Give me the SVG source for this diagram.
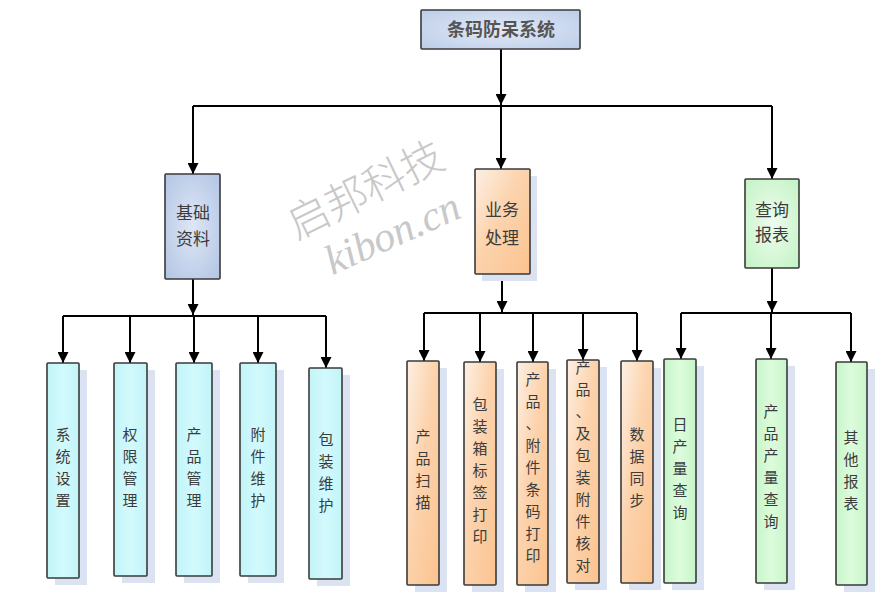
<svg xmlns="http://www.w3.org/2000/svg" width="884" height="613" viewBox="0 0 884 613">
<style>
.box{stroke:#3a3a3a;stroke-width:1.6}
.sh{fill:#dbe3f3}
.t{font-family:"Noto Sans CJK SC","Liberation Sans",sans-serif;font-size:17px;fill:#3c3c3c;text-anchor:middle}
.v{font-family:"Noto Sans CJK SC","Liberation Sans",sans-serif;font-size:15px;fill:#3c3c3c;text-anchor:middle}
.tt{font-family:"Noto Sans CJK SC","Liberation Sans",sans-serif;font-size:18px;fill:#555;font-weight:bold;text-anchor:middle}
.ln{stroke:#000;stroke-width:2;fill:none}
.ar{stroke:#000;stroke-width:2;fill:none;marker-end:url(#ah)}
.wm{font-size:42px;fill:#c8c8c8;text-anchor:middle}
</style>
<defs>
<marker id="ah" viewBox="0 0 12 12" refX="12" refY="6" markerWidth="12" markerHeight="11" orient="auto" markerUnits="userSpaceOnUse">
<path d="M0,0 L12,6 L0,12 z" fill="#000"/>
</marker>
<radialGradient id="gBlue" cx="0.5" cy="0.5" r="0.7">
<stop offset="0" stop-color="#dde6f5"/><stop offset="1" stop-color="#b3c5e4"/>
</radialGradient>
<radialGradient id="gTop" cx="0.5" cy="0.5" r="0.7">
<stop offset="0" stop-color="#e2e9f6"/><stop offset="1" stop-color="#bccde9"/>
</radialGradient>
<linearGradient id="gOr" x1="0" y1="0" x2="1" y2="1">
<stop offset="0" stop-color="#fdf0e4"/><stop offset="0.45" stop-color="#fcd3ad"/><stop offset="1" stop-color="#fbc38f"/>
</linearGradient>
<radialGradient id="gGr" cx="0.5" cy="0.5" r="0.7">
<stop offset="0" stop-color="#eefcef"/><stop offset="1" stop-color="#c3f3c3"/>
</radialGradient>
<linearGradient id="gCy" x1="0" y1="0" x2="1" y2="0">
<stop offset="0" stop-color="#c2f4f8"/><stop offset="0.5" stop-color="#d2fafd"/><stop offset="1" stop-color="#c2f4f8"/>
</linearGradient>
<linearGradient id="gGr3" x1="0" y1="0" x2="1" y2="0">
<stop offset="0" stop-color="#c7f5c9"/><stop offset="0.5" stop-color="#dcfcdc"/><stop offset="1" stop-color="#c7f5c9"/>
</linearGradient>
</defs>

<g id="watermark" font-family="'Liberation Serif','Noto Sans CJK SC',serif">
<text class="wm" x="372" y="203" transform="rotate(-26 372 203)" style="font-family:'Noto Sans CJK SC',sans-serif;font-weight:300">启邦科技</text>
<text class="wm" x="398" y="246" font-style="italic" font-size="40" transform="rotate(-24 398 246)">kibon.cn</text>
</g>

<g id="connectors">
<path class="ar" d="M501,49 V105"/>
<path class="ln" d="M193,106 H772"/>
<path class="ar" d="M193,106 V174"/>
<path class="ar" d="M501,106 V169"/>
<path class="ar" d="M772,106 V179"/>

<path class="ar" d="M193,279 V315"/>
<path class="ln" d="M63,316 H326"/>
<path class="ar" d="M63,316 V363"/>
<path class="ar" d="M130,316 V363"/>
<path class="ar" d="M194,316 V363"/>
<path class="ar" d="M258,316 V363"/>
<path class="ar" d="M326,316 V368"/>

<path class="ar" d="M502,274 V312"/>
<path class="ln" d="M424,313 H637"/>
<path class="ar" d="M424,313 V361"/>
<path class="ar" d="M480,313 V362"/>
<path class="ar" d="M533,313 V362"/>
<path class="ar" d="M583,313 V360"/>
<path class="ar" d="M637,313 V361"/>

<path class="ar" d="M772,268 V312"/>
<path class="ln" d="M681,313 H851"/>
<path class="ar" d="M681,313 V359"/>
<path class="ar" d="M771,313 V359"/>
<path class="ar" d="M851,313 V362"/>
</g>

<g id="n-root">
<rect class="box" x="421" y="10" width="159" height="39" rx="1" fill="url(#gTop)"/>
<text class="tt" x="501" y="36">条码防呆系统</text>
</g>

<g id="n-jichu">
<rect class="box" x="165" y="174" width="55" height="105" rx="1" fill="url(#gBlue)"/>
<text class="t" x="193" y="219">基础</text>
<text class="t" x="193" y="245">资料</text>
</g>
<g id="n-yewu">
<rect class="sh" x="482" y="176" width="55" height="105"/>
<rect class="box" x="475" y="169" width="55" height="105" rx="1" fill="url(#gOr)"/>
<text class="t" x="502" y="216">业务</text>
<text class="t" x="502" y="244">处理</text>
</g>
<g id="n-chaxun">
<rect class="box" x="745" y="179" width="54" height="89" rx="1" fill="url(#gGr)"/>
<text class="t" x="772" y="216">查询</text>
<text class="t" x="772" y="241">报表</text>
</g>

<g id="n-xitong">
<rect class="sh" x="55" y="370" width="32" height="215"/>
<rect class="box" x="47" y="363" width="32" height="215" rx="1" fill="url(#gCy)"/>
<text class="v" x="63" y="440"><tspan x="63">系</tspan><tspan x="63" dy="22">统</tspan><tspan x="63" dy="22">设</tspan><tspan x="63" dy="22">置</tspan></text>
</g>
<g id="n-quanxian">
<rect class="sh" x="122" y="370" width="33" height="213"/>
<rect class="box" x="114" y="363" width="33" height="213" rx="1" fill="url(#gCy)"/>
<text class="v" x="130" y="440"><tspan x="130">权</tspan><tspan x="130" dy="22">限</tspan><tspan x="130" dy="22">管</tspan><tspan x="130" dy="22">理</tspan></text>
</g>
<g id="n-chanpin">
<rect class="sh" x="184" y="370" width="36" height="213"/>
<rect class="box" x="176" y="363" width="36" height="213" rx="1" fill="url(#gCy)"/>
<text class="v" x="194" y="440"><tspan x="194">产</tspan><tspan x="194" dy="22">品</tspan><tspan x="194" dy="22">管</tspan><tspan x="194" dy="22">理</tspan></text>
</g>
<g id="n-fujian">
<rect class="sh" x="248" y="370" width="36" height="213"/>
<rect class="box" x="240" y="363" width="36" height="213" rx="1" fill="url(#gCy)"/>
<text class="v" x="258" y="440"><tspan x="258">附</tspan><tspan x="258" dy="22">件</tspan><tspan x="258" dy="22">维</tspan><tspan x="258" dy="22">护</tspan></text>
</g>
<g id="n-baozhuang">
<rect class="sh" x="317" y="375" width="33" height="211"/>
<rect class="box" x="309" y="368" width="33" height="211" rx="1" fill="url(#gCy)"/>
<text class="v" x="326" y="445"><tspan x="326">包</tspan><tspan x="326" dy="22">装</tspan><tspan x="326" dy="22">维</tspan><tspan x="326" dy="22">护</tspan></text>
</g>

<g id="n-saomiao">
<rect class="sh" x="415" y="368" width="32" height="224"/>
<rect class="box" x="407" y="361" width="32" height="224" rx="1" fill="url(#gOr)"/>
<text class="v" x="423" y="442"><tspan x="423">产</tspan><tspan x="423" dy="22">品</tspan><tspan x="423" dy="22">扫</tspan><tspan x="423" dy="22">描</tspan></text>
</g>
<g id="n-biaoqian">
<rect class="sh" x="472" y="369" width="32" height="223"/>
<rect class="box" x="464" y="362" width="32" height="223" rx="1" fill="url(#gOr)"/>
<text class="v" x="480" y="410"><tspan x="480">包</tspan><tspan x="480" dy="22">装</tspan><tspan x="480" dy="22">箱</tspan><tspan x="480" dy="22">标</tspan><tspan x="480" dy="22">签</tspan><tspan x="480" dy="22">打</tspan><tspan x="480" dy="22">印</tspan></text>
</g>
<g id="n-tiaoma">
<rect class="sh" x="525" y="369" width="31" height="223"/>
<rect class="box" x="517" y="362" width="31" height="223" rx="1" fill="url(#gOr)"/>
<text class="v" x="533" y="385"><tspan x="533">产</tspan><tspan x="533" dy="22">品</tspan><tspan x="533" dy="22">、</tspan><tspan x="533" dy="22">附</tspan><tspan x="533" dy="22">件</tspan><tspan x="533" dy="22">条</tspan><tspan x="533" dy="22">码</tspan><tspan x="533" dy="22">打</tspan><tspan x="533" dy="22">印</tspan></text>
</g>
<g id="n-hedui">
<rect class="sh" x="575" y="367" width="32" height="223"/>
<rect class="box" x="567" y="360" width="32" height="223" rx="1" fill="url(#gOr)"/>
<text class="v" x="583" y="373"><tspan x="583">产</tspan><tspan x="583" dy="22">品</tspan><tspan x="583" dy="22">、</tspan><tspan x="583" dy="22">及</tspan><tspan x="583" dy="22">包</tspan><tspan x="583" dy="22">装</tspan><tspan x="583" dy="22">附</tspan><tspan x="583" dy="22">件</tspan><tspan x="583" dy="22">核</tspan><tspan x="583" dy="22">对</tspan></text>
</g>
<g id="n-tongbu">
<rect class="sh" x="629" y="368" width="32" height="222"/>
<rect class="box" x="621" y="361" width="32" height="222" rx="1" fill="url(#gOr)"/>
<text class="v" x="637" y="440"><tspan x="637">数</tspan><tspan x="637" dy="22">据</tspan><tspan x="637" dy="22">同</tspan><tspan x="637" dy="22">步</tspan></text>
</g>

<g id="n-richan">
<rect class="sh" x="672" y="366" width="32" height="224"/>
<rect class="box" x="664" y="359" width="32" height="224" rx="1" fill="url(#gGr3)"/>
<text class="v" x="680" y="430"><tspan x="680">日</tspan><tspan x="680" dy="22">产</tspan><tspan x="680" dy="22">量</tspan><tspan x="680" dy="22">查</tspan><tspan x="680" dy="22">询</tspan></text>
</g>
<g id="n-chanliang">
<rect class="sh" x="764" y="366" width="31" height="224"/>
<rect class="box" x="756" y="359" width="31" height="224" rx="1" fill="url(#gGr3)"/>
<text class="v" x="771" y="417"><tspan x="771">产</tspan><tspan x="771" dy="22">品</tspan><tspan x="771" dy="22">产</tspan><tspan x="771" dy="22">量</tspan><tspan x="771" dy="22">查</tspan><tspan x="771" dy="22">询</tspan></text>
</g>
<g id="n-qita">
<rect class="sh" x="844" y="369" width="31" height="223"/>
<rect class="box" x="836" y="362" width="31" height="223" rx="1" fill="url(#gGr3)"/>
<text class="v" x="851" y="443"><tspan x="851">其</tspan><tspan x="851" dy="22">他</tspan><tspan x="851" dy="22">报</tspan><tspan x="851" dy="22">表</tspan></text>
</g>
</svg>
